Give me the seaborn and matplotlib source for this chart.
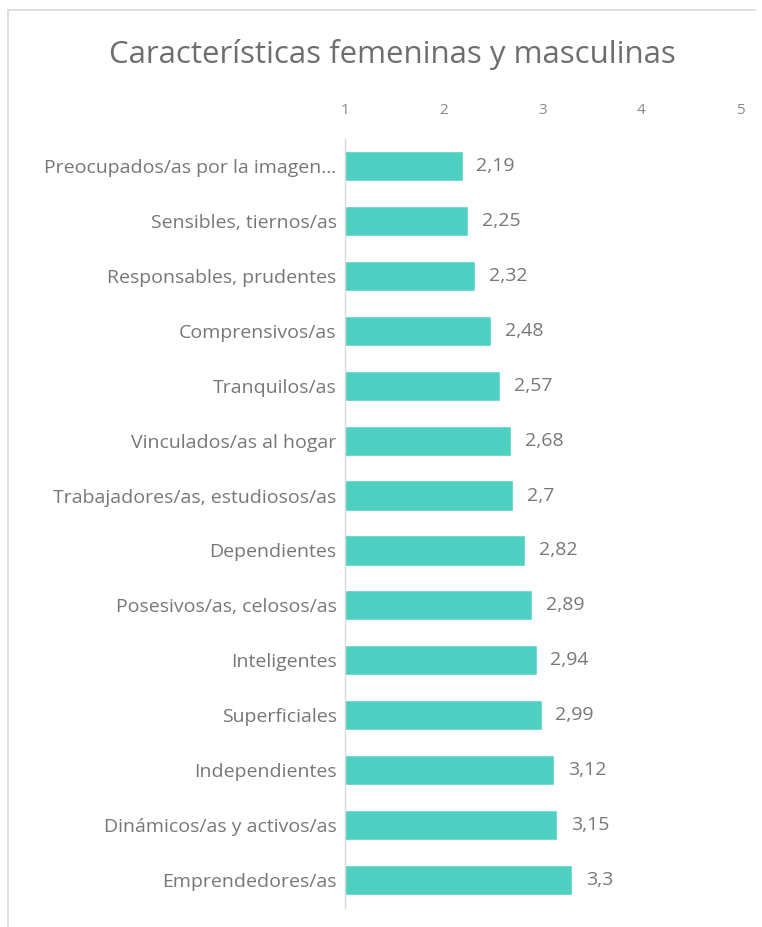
import matplotlib
matplotlib.use("Agg")
import matplotlib.pyplot as plt
import seaborn as sns
import pandas as pd
from matplotlib.lines import Line2D

# === Data ===
categories = [
    "Preocupados/as por la imagen...",
    "Sensibles, tiernos/as",
    "Responsables, prudentes",
    "Comprensivos/as",
    "Tranquilos/as",
    "Vinculados/as al hogar",
    "Trabajadores/as, estudiosos/as",
    "Dependientes",
    "Posesivos/as, celosos/as",
    "Inteligentes",
    "Superficiales",
    "Independientes",
    "Dinámicos/as y activos/as",
    "Emprendedores/as",
]
values = [2.19, 2.25, 2.32, 2.48, 2.57, 2.68, 2.7, 2.82, 2.89, 2.94, 2.99, 3.12, 3.15, 3.3]
value_labels = ["2,19", "2,25", "2,32", "2,48", "2,57", "2,68", "2,7",
                "2,82", "2,89", "2,94", "2,99", "3,12", "3,15", "3,3"]
x_ticks = [1, 2, 3, 4, 5]
title = "Características femeninas y masculinas"

BAR_COLOR = "#4ED1C3"
TEXT_GREY = "#777777"

sns.set_style("white")
plt.rcParams["font.family"] = ["Open Sans", "DejaVu Sans"]

df = pd.DataFrame({"categoria": categories, "valor": values})

fig = plt.figure(figsize=(7.62, 9.27), dpi=100)
ax = fig.add_axes([345 / 762, 1 - 907.5 / 927, 395 / 762, 769 / 927])

sns.barplot(data=df, x="valor", y="categoria", orient="h", color=BAR_COLOR,
            width=0.55, saturation=1, ax=ax)

ax.set_xlim(1, 5)
ax.set_xticks(x_ticks)
ax.xaxis.tick_top()
ax.tick_params(axis="x", length=0, pad=15, labelsize=11, labelcolor="#8a8a8a")
ax.tick_params(axis="y", length=0, pad=6, labelsize=14, labelcolor=TEXT_GREY)
ax.set_xlabel("")
ax.set_ylabel("")

for side in ["top", "right", "bottom"]:
    ax.spines[side].set_visible(False)
ax.spines["left"].set_color("#d9d9d9")
ax.spines["left"].set_linewidth(1)

ax.bar_label(ax.containers[0], labels=value_labels, padding=10,
             fontsize=14, color=TEXT_GREY)

fig.text(392 / 762, 1 - 55 / 927, title, ha="center", va="center",
         fontsize=22.5, color="#6e6e6e")

# light chart frame (top and left edges)
fig.add_artist(Line2D([8 / 762, 755 / 762], [1 - 10 / 927, 1 - 10 / 927],
                      color="#d9d9d9", lw=1.2, transform=fig.transFigure))
fig.add_artist(Line2D([8 / 762, 8 / 762], [1 - 10 / 927, 0],
                      color="#d9d9d9", lw=1.2, transform=fig.transFigure))

fig.savefig("out.png", dpi=100, facecolor="white")
